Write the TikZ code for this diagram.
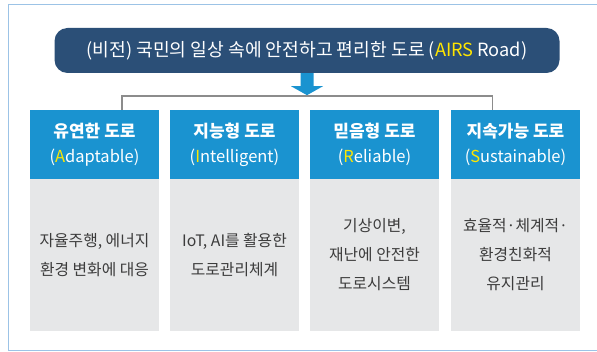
\documentclass[tikz,border=0pt]{standalone}
\usepackage{fontspec}
\setmainfont{Noto Sans CJK KR}
\usetikzlibrary{calc}
\definecolor{navy}{HTML}{2B4F77}
\definecolor{skyb}{HTML}{1A93D0}
\definecolor{bodyg}{HTML}{E6E7E8}
\definecolor{framec}{HTML}{9CC3E6}
\definecolor{yel}{HTML}{FFE600}
\definecolor{txtc}{HTML}{3C3C3C}
\definecolor{linec}{HTML}{8C8C8C}
\begin{document}
\begin{tikzpicture}[x=1pt,y=-1pt,
  banner/.style={fill=navy, rounded corners=13pt, minimum width=505pt, minimum height=45pt,
    text=white, font=\fontsize{18.2}{21}\selectfont, inner sep=0pt},
  hdr/.style={fill=skyb, minimum width=129pt, minimum height=69pt, text=white, align=center,
    font=\fontsize{16.5}{25}\selectfont, inner sep=0pt},
  bdy/.style={fill=bodyg, minimum width=129pt, minimum height=152pt, text=txtc, align=center,
    font=\fontsize{15.8}{29}\selectfont, inner sep=0pt},
  bracket/.style={draw=linec, line width=1.6pt},
  arrowc/.style={fill=skyb}
]
\useasboundingbox (0,0) rectangle (597,352);
\clip (0,0) rectangle (597,352);
\draw[framec, line width=1pt] (8,4.5) rectangle (605,350.5);

\node[banner] (vision) at (307,50.5) {(비전) 국민의 일상 속에 안전하고 편리한 도로 (\textcolor{yel}{AIRS} Road)};

\fill[arrowc] ($(vision.south)+(-6.5,0)$) -- ($(vision.south)+(6.5,0)$) -- ($(vision.south)+(6.5,13)$)
  -- ($(vision.south)+(16,13)$) -- ($(vision.south)+(0,22)$) -- ($(vision.south)+(-16,13)$)
  -- ($(vision.south)+(-6.5,13)$) -- cycle;

\node[hdr] (h1) at (94.5,144.5) {\textbf{\fontsize{17}{25}\selectfont 유연한 도로}\\(\textcolor{yel}{A}daptable)};
\node[hdr] (h2) at (234.5,144.5) {\textbf{\fontsize{17}{25}\selectfont 지능형 도로}\\(\textcolor{yel}{I}ntelligent)};
\node[hdr] (h3) at (374.5,144.5) {\textbf{\fontsize{17}{25}\selectfont 믿음형 도로}\\(\textcolor{yel}{R}eliable)};
\node[hdr] (h4) at (515.5,144.5) {\textbf{\fontsize{17}{25}\selectfont 지속가능 도로}\\(\textcolor{yel}{S}ustainable)};

\node[bdy] (b1) at (94.5,255) {자율주행, 에너지\\환경 변화에 대응};
\node[bdy] (b2) at (234.5,255) {IoT, AI를 활용한\\도로관리체계};
\node[bdy] (b3) at (374.5,255) {기상이변,\\재난에 안전한\\도로시스템};
\node[bdy] (b4) at (515.5,255) {효율적·체계적·\\환경친화적\\유지관리};

\coordinate (bl) at (122,96);
\coordinate (br) at (492.5,96);
\draw[bracket] (bl |- h1.north) -- (bl) -- (br) -- (br |- h4.north);
\end{tikzpicture}
\end{document}
